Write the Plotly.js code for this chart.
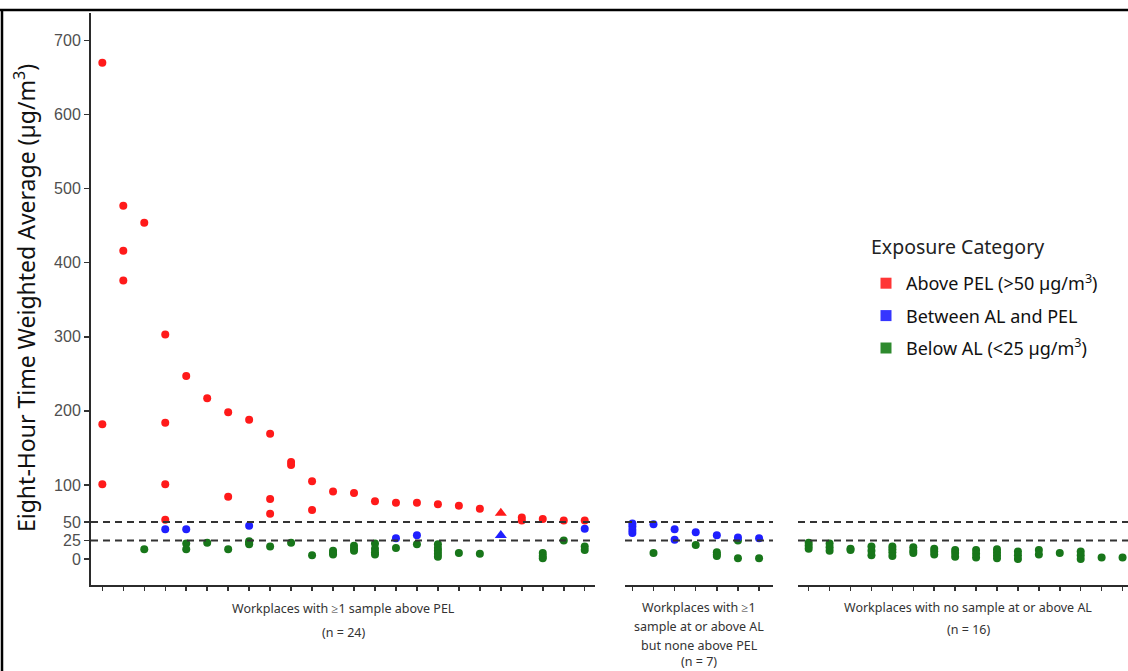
<!DOCTYPE html>
<html>
<head>
<meta charset="utf-8">
<script src="https://cdn.plot.ly/plotly-3.0.1.min.js"></script>
<style>html,body{margin:0;padding:0;background:#fff;}#chart{width:1128px;height:671px;}</style>
</head>
<body>
<div id="chart"></div>
<script>
// ---- Data (values in µg/m³), one inner list per workplace ----
const panel1Red = [
  [670, 182, 101], [477, 416, 376], [454], [303, 184, 101, 53], [247], [217],
  [198, 84], [188], [169, 81, 61], [131, 127], [105, 66], [91],
  [89], [78], [76], [76], [74], [72],
  [68], [62], [56, 52], [54], [52], [52]
];
const panel1Blue = [
  [], [], [], [40], [40], [], [], [45], [], [], [], [],
  [], [], [28], [32], [], [], [], [32], [], [], [], [41]
];
const panel1Green = [
  [], [], [13], [], [21, 13], [22], [13], [24, 22, 20], [17], [22], [5], [11, 8, 6],
  [18, 14, 11], [21, 14, 9, 6], [15], [20], [20, 15, 11, 7, 3], [8], [7], [], [], [8, 4, 1], [25], [17, 12]
];
const panel1TriangleWorkplace = 20;

const panel2Blue = [[48, 44, 39, 35], [47], [40, 26], [36], [32], [29], [28]];
const panel2Green = [[], [8], [], [19], [9, 6, 4], [25, 1], [1]];

const panel3Green = [
  [22, 18, 14], [21, 16, 11], [14, 12], [17, 11, 5], [17, 13, 9, 4], [16, 11, 8], [14, 10, 6], [12, 8, 3],
  [12, 7, 2], [13, 9, 5, 1], [10, 5, 0], [12, 6], [8], [10, 5, 0], [2], [2]
];

const yTickVals = [0, 25, 50, 100, 200, 300, 400, 500, 600, 700];
const refLines = [25, 50];

const legendTitle = 'Exposure Category';
const categoryNames = ['Above PEL (>50 µg/m<sup>3</sup>)', 'Between AL and PEL', 'Below AL (<25 µg/m<sup>3</sup>)'];
const categoryColors = ['#ff1a1a', '#1f1fff', '#18761a'];
const legendColors = ['#ff3535', '#3535ff', '#2e8a2e'];

const panelLabels = [
  ['Workplaces with ≥1 sample above PEL', '(n = 24)'],
  ['Workplaces with ≥1', 'sample at or above AL', 'but none above PEL', '(n = 7)'],
  ['Workplaces with no sample at or above AL', '(n = 16)']
];

// ---- Layout helpers ----
const W = 1128, H = 671;
const px = v => v / W;
const py = v => 1 - v / H;

function build(list, axis, color, triWs) {
  const x = [], y = [], sym = [], size = [];
  list.forEach((vals, i) => vals.forEach(v => {
    x.push(i + 1); y.push(v);
    const tri = (i + 1) === triWs;
    sym.push(tri ? 'triangle-up' : 'circle');
    size.push(tri ? 10.5 : 8);
  }));
  return {
    type: 'scatter', mode: 'markers', x, y, xaxis: axis, yaxis: 'y',
    marker: { color, size, symbol: sym, opacity: 1, line: { width: 0 } },
    showlegend: false, hoverinfo: 'y'
  };
}

const traces = [
  build(panel1Green, 'x', categoryColors[2], 0),
  build(panel1Blue, 'x', categoryColors[1], panel1TriangleWorkplace),
  build(panel1Red, 'x', categoryColors[0], panel1TriangleWorkplace),
  build(panel2Green, 'x2', categoryColors[2], 0),
  build(panel2Blue, 'x2', categoryColors[1], 0),
  build(panel3Green, 'x3', categoryColors[2], 0)
];
categoryNames.forEach((n, i) => traces.push({
  type: 'scatter', mode: 'markers', x: [null], y: [null], xaxis: 'x', yaxis: 'y',
  name: n, legendgroup: 'g' + i, showlegend: true,
  marker: { symbol: 'square', size: 11, color: legendColors[i], opacity: 1 }
}));

const xBase = {
  anchor: 'y', showline: true, linecolor: '#2b2b2b', linewidth: 2,
  ticks: 'outside', ticklen: 4, tickwidth: 1.5, tickcolor: '#333',
  showticklabels: false, showgrid: false, zeroline: false, fixedrange: true
};
const seq = n => Array.from({ length: n }, (_, i) => i + 1);

const shapes = [];
['x', 'x2', 'x3'].forEach(ax => refLines.forEach(v => shapes.push({
  type: 'line', xref: ax + ' domain', yref: 'y', x0: 0, x1: 1, y0: v, y1: v,
  line: { color: '#333', width: 2, dash: '7px,5px' }
})));
shapes.push({ type: 'line', xref: 'paper', yref: 'paper', x0: px(0), x1: 1, y0: py(10), y1: py(10), line: { color: '#000', width: 2.5 } });
shapes.push({ type: 'line', xref: 'paper', yref: 'paper', x0: px(2), x1: px(2), y0: py(10), y1: 0, line: { color: '#000', width: 2.5 } });

const annotations = [{
  xref: 'paper', yref: 'paper', x: px(25), y: py(298), textangle: -90, showarrow: false,
  text: 'Eight-Hour Time Weighted Average (µg/m<sup>3</sup>)',
  font: { family: 'Noto Sans', size: 23, color: '#111' }, xanchor: 'center', yanchor: 'middle'
}, {
  xref: 'paper', yref: 'paper', x: px(869), y: py(247), showarrow: false,
  text: legendTitle, xanchor: 'left', yanchor: 'middle',
  font: { family: 'Noto Sans', size: 19.5, color: '#222' }
}];
const labelCenters = [343, 699, 968];
const labelRows = [[608, 632], [607, 626, 645, 661], [607, 629]];
panelLabels.forEach((lines, p) => lines.forEach((t, k) => annotations.push({
  xref: 'paper', yref: 'paper', x: px(labelCenters[p]), y: py(labelRows[p][k]),
  text: t, showarrow: false, xanchor: 'center', yanchor: 'middle',
  font: { family: 'Noto Sans', size: 12.5, color: '#333' }
})));

const layout = {
  width: W, height: H, margin: { l: 0, r: 0, t: 0, b: 0 },
  paper_bgcolor: '#fff', plot_bgcolor: 'rgba(0,0,0,0)',
  showlegend: true,
  xaxis: Object.assign({}, xBase, { domain: [px(91), px(595)], range: [0.46, 24.49], tickvals: seq(24) }),
  xaxis2: Object.assign({}, xBase, { domain: [px(625), px(773)], range: [0.65, 7.66], tickvals: seq(7) }),
  xaxis3: Object.assign({}, xBase, { domain: [px(798), 1], range: [0.49, 16.26], tickvals: seq(16) }),
  yaxis: {
    domain: [py(585), py(13)], range: [-35.1, 737.1], anchor: 'x',
    showline: true, linecolor: '#2b2b2b', linewidth: 2,
    ticks: 'outside', ticklen: 5, tickwidth: 1.5, tickcolor: '#333',
    tickvals: yTickVals, ticktext: yTickVals.map(String),
    tickfont: { family: 'Liberation Sans', size: 16, color: '#4f4f4f' },
    showgrid: false, zeroline: false, fixedrange: true
  },
  legend: {
    x: px(866), y: py(265), xanchor: 'left', yanchor: 'top',
    traceorder: 'grouped', tracegroupgap: 6,
    font: { family: 'Noto Sans', size: 18, color: '#111' },
    bgcolor: 'rgba(0,0,0,0)'
  },
  shapes, annotations
};

Plotly.newPlot('chart', traces, layout, { staticPlot: true, displayModeBar: false });
</script>
</body>
</html>
